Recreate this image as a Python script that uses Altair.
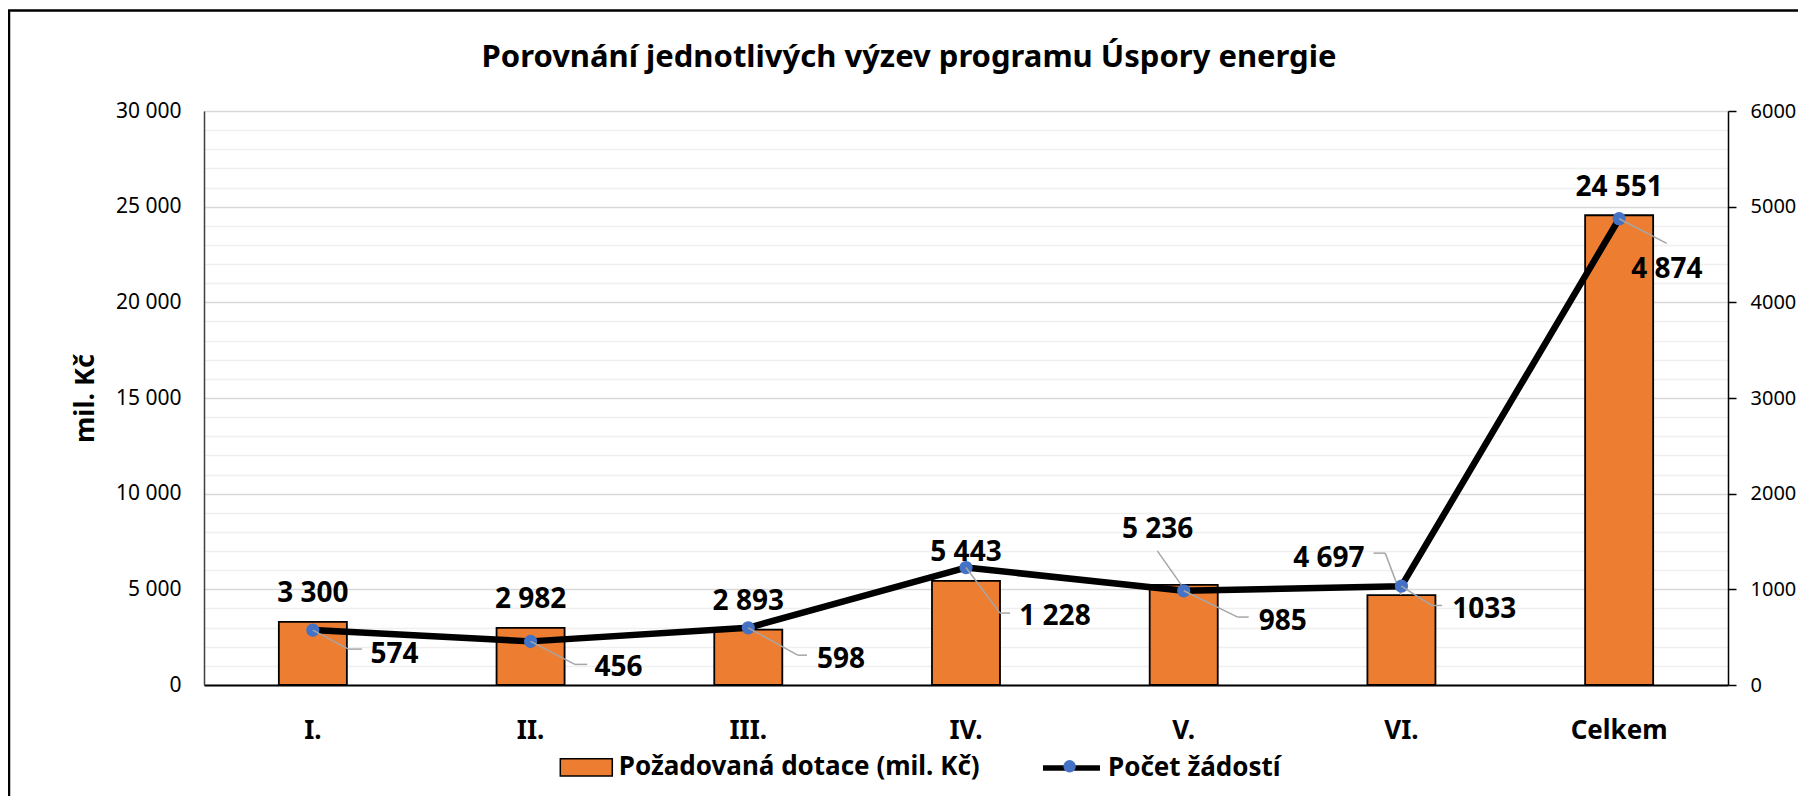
import altair as alt
import pandas as pd

# ---- data ----
categories = ["I.", "II.", "III.", "IV.", "V.", "VI.", "Celkem"]
dotace = [3300, 2982, 2893, 5443, 5236, 4697, 24551]          # mil. Kč (left axis)
pocet = [574, 456, 598, 1228, 985, 1033, 4874]                # count (right axis)
dotace_labels = ["3 300", "2 982", "2 893", "5 443", "5 236", "4 697", "24 551"]
pocet_labels = ["574", "456", "598", "1 228", "985", "1033", "4 874"]
SER_BAR = "Požadovaná dotace (mil. Kč)"
SER_LINE = "Počet žádostí"
MARKER_KEY = "marker"   # internal key for the legend marker overlay (label hidden)
TITLE = "Porovnání jednotlivých výzev programu Úspory energie"
Y_TITLE = "mil. Kč"

df = pd.DataFrame({"cat": categories, "dotace": dotace, "pocet": pocet,
                   "lab_d": dotace_labels, "lab_p": pocet_labels})
df["sb"] = SER_BAR
df["sl"] = SER_LINE
df["sp"] = MARKER_KEY

FONT = "Noto Sans"
ORANGE = "#ED7D31"
BLUE = "#4472C4"
GRAY = "#A6A6A6"

W, H = 1524, 574

x_scale = alt.Scale(paddingInner=0.6875, paddingOuter=0.34375)
x_axis = alt.Axis(title=None, labelAngle=0, labelFont=FONT, labelFontSize=26,
                  labelFontWeight="bold", labelColor="black", labelBaseline="alphabetic",
                  labelPadding=53, ticks=False, tickSize=0, domainColor="black",
                  domainWidth=2, grid=False)
x_enc = alt.X("cat:N", sort=categories, scale=x_scale, axis=x_axis)
x_rule = alt.X("cat:N", sort=categories, scale=x_scale, axis=x_axis, bandPosition=0.5)

left_axis = alt.Axis(
    values=list(range(0, 30001, 1000)),
    labelExpr="datum.value % 5000 === 0 ? replace(format(datum.value, ','), ',', ' ') : ''",
    labelOverlap=False, labelFlush=False, ticks=False, tickSize=0, labelPadding=23,
    labelFont=FONT, labelFontSize=21, labelColor="black",
    domainColor="#404040", domainWidth=1.5,
    grid=True, gridWidth=1.5,
    gridColor={"condition": {"test": "datum.value % 5000 === 0", "value": "#D9D9D9"},
               "value": "#EFEFEF"},
    title=Y_TITLE, titleFont=FONT, titleFontSize=27, titleFontWeight="bold",
    titleColor="black", titleAngle=270, titleX=-119, titleY=H / 2,
    titleAlign="center", titleBaseline="middle")
y_left = alt.Y("dotace:Q", scale=alt.Scale(domain=[0, 30000], nice=False), axis=left_axis)

right_axis = alt.Axis(
    orient="right", values=list(range(0, 6001, 1000)), format="d",
    labelOverlap=False, labelFlush=False, ticks=True, tickSize=8, tickColor="black",
    tickWidth=1.5, labelPadding=14, labelFont=FONT, labelFontSize=20, labelColor="black",
    domainColor="black", domainWidth=1.5, grid=False, title=None)
y_right = alt.Y("pocet:Q", scale=alt.Scale(domain=[0, 6000], nice=False), axis=right_axis)

base = alt.Chart(df)

# ---------- left group: bars ----------
bars = base.mark_bar(stroke="black", strokeWidth=1.8).encode(
    x=x_enc, y=y_left,
    color=alt.Color("sb:N", scale=alt.Scale(domain=[SER_BAR], range=[ORANGE]),
                    legend=alt.Legend(title=None, orient="none", legendX=355.3, legendY=629.3,
                                      direction="horizontal", padding=0,
                                      symbolType="M-1,-0.33H1V0.33H-1Z", symbolSize=2704,
                                      symbolStrokeColor="black", symbolStrokeWidth=1.5,
                                      symbolOpacity=1, labelOffset=5.5, labelLimit=800,
                                      labelFont=FONT, labelFontSize=26, labelFontWeight="bold",
                                      labelColor="black")))

label_style = dict(font=FONT, fontSize=28, fontWeight="bold", color="black",
                   baseline="alphabetic")

bar_lab_default = base.transform_filter(
    alt.FieldOneOfPredicate(field="cat", oneOf=["I.", "II.", "III.", "IV.", "Celkem"])
).mark_text(align="center", dy=-19.5, **label_style).encode(x=x_enc, y=y_left, text="lab_d:N")

bar_lab_special = {"V.": (-26, -46.4), "VI.": (-72.5, -28.6)}
left_layers = [bars, bar_lab_default]
for c, (dx, dy) in bar_lab_special.items():
    left_layers.append(base.transform_filter(alt.datum.cat == c).mark_text(
        align="center", dx=dx, dy=dy, **label_style).encode(x=x_enc, y=y_left, text="lab_d:N"))


def leader(cat, field, yenc, p0, p1):
    return base.transform_filter(alt.datum.cat == cat).mark_rule(
        color=GRAY, strokeWidth=1.5,
        xOffset=p0[0], yOffset=p0[1], x2Offset=p1[0], y2Offset=p1[1]
    ).encode(x=x_rule, x2=alt.X2("cat"), y=yenc, y2=alt.Y2(field))


bar_leaders = {
    "V.": [((-26.4, -34), (-1.4, 1.6))],
    "VI.": [((-27.9, -42), (-16.2, -42)), ((-16.2, -42), (-0.5, -0.3))],
}
for c, segs in bar_leaders.items():
    for p0, p1 in segs:
        left_layers.append(leader(c, "dotace", y_left, p0, p1))

left = alt.layer(*left_layers)

# ---------- right group: line ----------
line = base.mark_line(strokeWidth=6.5, strokeJoin="round", strokeCap="round").encode(
    x=x_enc, y=y_right,
    stroke=alt.Stroke("sl:N", scale=alt.Scale(domain=[SER_LINE], range=["black"]),
                      legend=alt.Legend(title=None, orient="none", legendX=836, legendY=625.5,
                                        direction="horizontal", padding=0,
                                        symbolType="M-1,0H1", symbolSize=3249,
                                        symbolStrokeWidth=5.5, symbolOpacity=1,
                                        labelOffset=5, labelLimit=800,
                                        labelFont=FONT, labelFontSize=26,
                                        labelFontWeight="bold", labelColor="black")))

points = base.mark_point(filled=True, size=175, opacity=1, strokeWidth=0).encode(
    x=x_enc, y=y_right,
    fill=alt.Fill("sp:N", scale=alt.Scale(domain=[MARKER_KEY], range=[BLUE]),
                  legend=alt.Legend(title=None, orient="none", legendX=859.1, legendY=648.8,
                                    padding=0, symbolType="circle", symbolSize=154,
                                    symbolOpacity=1, symbolStrokeWidth=0, labelExpr="''",
                                    labelFontSize=1, zindex=5)))

right_layers = [line, points]

line_leaders = {
    "I.": [((0, 0), (35.6, 19)), ((35.6, 19), (49, 19))],
    "II.": [((0, 0), (44.3, 23)), ((44.3, 23), (56.7, 23))],
    "III.": [((0, 0), (49.4, 27.4)), ((49.4, 27.4), (58.7, 27.4))],
    "IV.": [((0, 0), (34, 45.6)), ((34, 45.6), (44, 45.6))],
    "V.": [((0, 0), (54, 26.3)), ((54, 26.3), (65, 26.3))],
    "VI.": [((0, 0), (30, 19.3)), ((30, 19.3), (40.7, 19.3))],
    "Celkem": [((0, 0), (47.6, 24.7))],
}
for c, segs in line_leaders.items():
    for p0, p1 in segs:
        right_layers.append(leader(c, "pocet", y_right, p0, p1))

line_lab_offsets = {"I.": (57.6, 33), "II.": (64, 34.7), "III.": (68.7, 40.7),
                    "IV.": (53.3, 57.3), "V.": (75, 39.7), "VI.": (50.7, 31.6),
                    "Celkem": (12, 59.3)}
for c, (dx, dy) in line_lab_offsets.items():
    right_layers.append(base.transform_filter(alt.datum.cat == c).mark_text(
        align="left", dx=dx, dy=dy, **label_style).encode(x=x_enc, y=y_right, text="lab_p:N"))

right = alt.layer(*right_layers)

# ---------- outer frame ----------
frame = alt.Chart(alt.Data(values=[{"f": 1}])).mark_rect(
    fill="transparent", stroke="black", strokeWidth=2.5
).encode(x=alt.value(-195), x2=alt.value(1700), y=alt.value(-100.5), y2=alt.value(800))

chart = alt.layer(left, right, frame).resolve_scale(y="independent").properties(
    width=W, height=H,
    autosize=alt.AutoSizeParams(type="none"),
    padding={"left": 196, "top": 103, "right": 70, "bottom": 111},
    title=alt.TitleParams(TITLE, font=FONT, fontSize=31, fontWeight="bold", color="black",
                          anchor="middle", frame="group", baseline="alphabetic",
                          offset=0, dx=-57, dy=89),
).configure_view(stroke=None).configure(background="white")

chart.save("out.html", embed_options={"renderer": "svg", "actions": False})
